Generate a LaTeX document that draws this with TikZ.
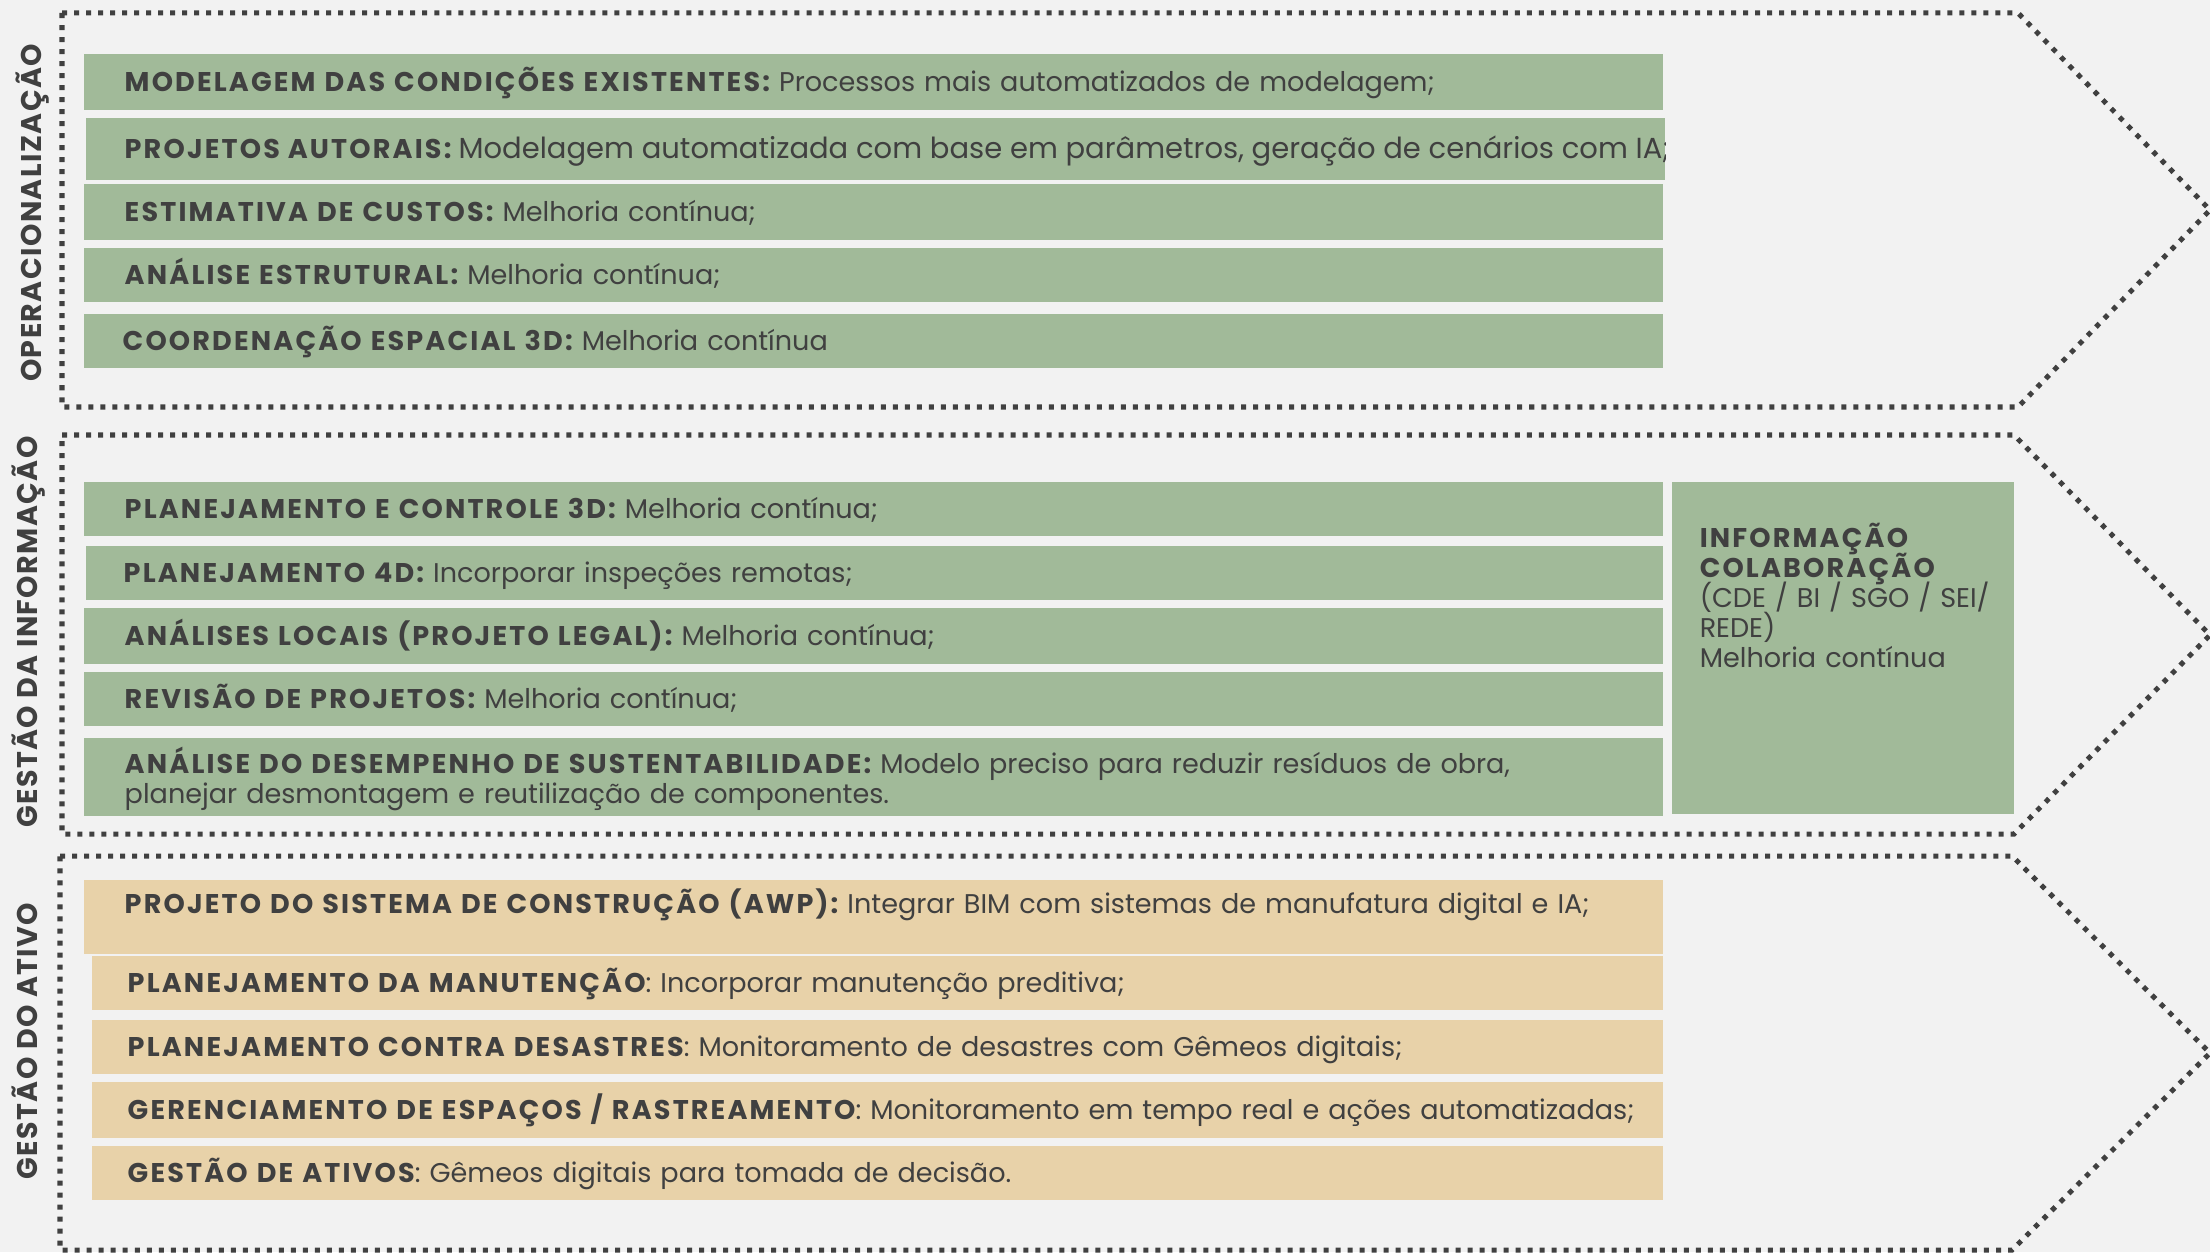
\documentclass[tikz,border=0pt]{standalone}
\usepackage{fontspec}
\setmainfont{Poppins}
\usetikzlibrary{positioning}

\definecolor{fundo}{HTML}{F2F2F2}
\definecolor{verde}{HTML}{A1BA99}
\definecolor{areia}{HTML}{E8D2A9}
\definecolor{grafite}{HTML}{404040}

\newcommand{\chave}[1]{{\bfseries\addfontfeatures{LetterSpace=8}#1}}
\newcommand{\corpo}{\fontsize{7.7}{8.5}\selectfont\setlength{\lineskiplimit}{-10pt}}

\begin{document}
\begin{tikzpicture}[x=0.01cm, y=-0.01cm, text=grafite,
    faixa/.style = {draw=grafite, line width=0.05cm, dash pattern=on 0.05cm off 0.07cm},
    rotulo/.style = {rotate=90, inner sep=0pt, font=\bfseries\fontsize{8.1}{9}\selectfont\addfontfeatures{LetterSpace=5}},
    caixa/.style = {fill=verde, anchor=north west, inner ysep=0pt, inner xsep=0.41cm,
      minimum width=15.78cm, text width=14.96cm, align=left, text height=0.19cm, text depth=0cm,
      font=\corpo},
    ativo/.style = {caixa, fill=areia, inner xsep=0.36cm, minimum width=15.70cm, text width=14.98cm}]

  % fundo
  \fill[fundo] (0,0) rectangle (2210,1252);
  \useasboundingbox (0,0) rectangle (2210,1252);

  % faixas
  \draw[faixa] (62,13) -- (2018,13) -- (2210,210) -- (2018,407) -- (62,407) -- cycle;
  \draw[faixa] (62,435) -- (2014,435) -- (2210,635) -- (2014,834) -- (62,834) -- cycle;
  \draw[faixa] (60,856) -- (2012,856) -- (2210,1053) -- (2012,1250) -- (60,1250) -- cycle;

  % rotulos
  \node[rotulo] (operacao) at (33,213) {OPERACIONALIZAÇÃO};
  \node[rotulo] (informacao) at (29,632) {GESTÃO DA INFORMAÇÃO};
  \node[rotulo] (ativos) at (25,1041) {GESTÃO DO ATIVO};

  % operacionalizacao
  \node[caixa, minimum height=0.56cm] (modelagem) at (83,53) {\chave{MODELAGEM DAS CONDIÇÕES EXISTENTES:} Processos mais automatizados de modelagem;};
  \node[caixa, minimum height=0.62cm, text width=14.94cm] (autorais) at (85,117) {};
  \begin{scope}
    \clip (autorais.north west) rectangle (autorais.south east);
    \node[anchor=base west, inner sep=0pt, font=\corpo] (autorais-txt) at (124,159)
      {\chave{PROJETOS AUTORAIS:} {\fontsize{8.25}{9}\selectfont Modelagem automatizada com base em parâmetros, geração de cenários com IA;}};
  \end{scope}
  \node[caixa, minimum height=0.56cm] (custos) at (83,183) {\chave{ESTIMATIVA DE CUSTOS:} Melhoria contínua;};
  \node[caixa, minimum height=0.54cm] (estrutural) at (83,247) {\chave{ANÁLISE ESTRUTURAL:} Melhoria contínua;};
  \node[caixa, minimum height=0.54cm, inner xsep=0.39cm, text width=15.00cm] (espacial) at (83,313) {\chave{COORDENAÇÃO ESPACIAL 3D:} Melhoria contínua};

  % gestao da informacao
  \node[caixa, minimum height=0.54cm] (controle) at (83,481) {\chave{PLANEJAMENTO E CONTROLE 3D:} Melhoria contínua;};
  \node[caixa, minimum height=0.54cm, minimum width=15.76cm, inner xsep=0.38cm, text width=15.00cm] (plan4d) at (85,545) {\chave{PLANEJAMENTO 4D:} Incorporar inspeções remotas;};
  \node[caixa, minimum height=0.56cm] (locais) at (83,607) {\chave{ANÁLISES LOCAIS (PROJETO LEGAL):} Melhoria contínua;};
  \node[caixa, minimum height=0.54cm] (revisao) at (83,671) {\chave{REVISÃO DE PROJETOS:} Melhoria contínua;};
  \node[caixa, minimum height=0.78cm, text height=0.36cm, text depth=0.42cm] (sustenta) at (83,737)
    {\chave{ANÁLISE DO DESEMPENHO DE SUSTENTABILIDADE:} Modelo preciso para reduzir resíduos de obra,\\ planejar desmontagem e reutilização de componentes.};
  \node[caixa, minimum width=3.42cm, inner xsep=0.28cm, text width=2.86cm, text height=0.66cm, text depth=2.66cm] (colab) at (1671,481)
    {\chave{INFORMAÇÃO}\\ \chave{COLABORAÇÃO}\\ \mbox{(CDE / BI / SGO / SEI/}\\ REDE)\\ Melhoria contínua};

  % gestao do ativo
  \node[ativo, minimum width=15.78cm, inner xsep=0.41cm, text width=14.96cm, text height=0.34cm, text depth=0.40cm] (awp) at (83,879)
    {\chave{PROJETO DO SISTEMA DE CONSTRUÇÃO (AWP):} Integrar BIM com sistemas de manufatura digital e IA;};
  \node[ativo, minimum height=0.54cm] (manutencao) at (91,955) {\chave{PLANEJAMENTO DA MANUTENÇÃO}: Incorporar manutenção preditiva;};
  \node[ativo, minimum height=0.54cm] (desastres) at (91,1019) {\chave{PLANEJAMENTO CONTRA DESASTRES}: Monitoramento de desastres com Gêmeos digitais;};
  \node[ativo, minimum height=0.56cm] (espacos) at (91,1081) {\mbox{\chave{GERENCIAMENTO DE ESPAÇOS / RASTREAMENTO}: Monitoramento em tempo real e ações automatizadas;}};
  \node[ativo, minimum height=0.54cm] (gestao) at (91,1145) {\chave{GESTÃO DE ATIVOS}: Gêmeos digitais para tomada de decisão.};

\end{tikzpicture}
\end{document}
